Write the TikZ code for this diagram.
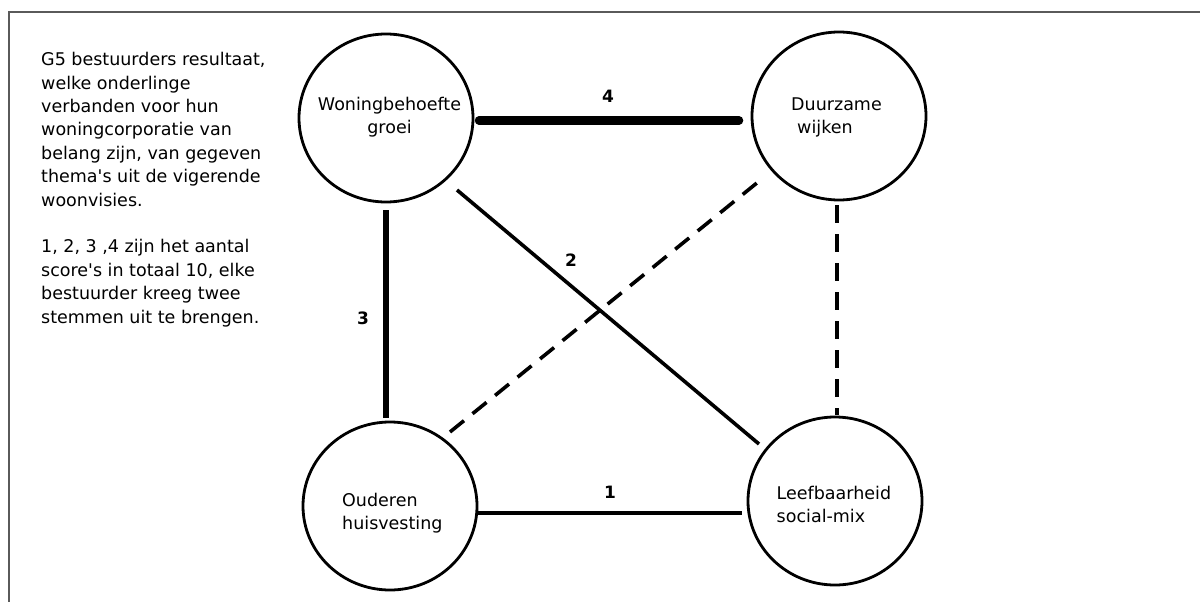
\documentclass[tikz,border=0pt]{standalone}
\usepackage{fontspec}
\setmainfont{DejaVu Sans}
\usetikzlibrary{shapes.geometric,calc}
\definecolor{framegray}{HTML}{5A5A5A}
\begin{document}
\begin{tikzpicture}[x=1pt,y=-1pt,
  bubble/.style={ellipse,draw,line width=2.8pt,minimum width=174pt,minimum height=168pt,inner sep=0pt},
  txt/.style={font=\fontsize{17.5}{23.4}\selectfont,inner sep=0pt,align=left},
  ctxt/.style={font=\fontsize{17.5}{23}\selectfont,inner sep=0pt},
  num/.style={font=\fontsize{17}{20}\selectfont\bfseries,inner sep=0pt},
  link/.style={line width=3.6pt},
  dlink/.style={line width=3.6pt,dash pattern=on 18pt off 11pt}
]
\useasboundingbox (0,0) rectangle (1200,602);
\draw[line width=2pt,framegray] (9,602) -- (9,12) -- (1200,12);

\node[txt,anchor=north west] (desc) at (41,52.2) {G5 bestuurders resultaat,\\welke onderlinge\\verbanden voor hun\\woningcorporatie van\\belang zijn, van gegeven\\thema\textquotesingle s uit de vigerende\\woonvisies.\\[23.4pt]1, 2, 3 ,4 zijn het aantal\\score\textquotesingle s in totaal 10, elke\\bestuurder kreeg twee\\stemmen uit te brengen.};

\node[bubble] (c1) at (386,118) {};
\node[bubble] (c2) at (839,116) {};
\node[bubble] (c3) at (390,506) {};
\node[bubble] (c4) at (835,501) {};

\node[ctxt,align=center,anchor=north] (t1) at (389.5,96.7) {Woningbehoefte\\groei};
\node[ctxt,align=left,anchor=north west] (t2) at (791,97.2) {Duurzame\\\hspace*{6pt}wijken};
\node[ctxt,align=left,anchor=north west] (t3) at (342,492.7) {Ouderen\\huisvesting};
\node[ctxt,align=left,anchor=north west] (t4) at (776.5,485.7) {Leefbaarheid\\social-mix};

\draw[line width=8.5pt,line cap=round] ($(c1)+(93,2.5)$) -- ($(c2)+(-100,4.5)$);
\draw[line width=5.5pt] ($(c1)+(0,92)$) -- ($(c3)+(-4,-88)$);
\draw[link] ($(c1)+(71,72)$) -- ($(c4)+(-76,-57)$);
\draw[link] ($(c3)+(88,7)$) -- ($(c4)+(-93,12)$);
\draw[dlink] ($(c3)+(60,-74)$) -- ($(c2)+(-76,62)$);
\draw[dlink,line width=4pt] ($(c2)+(-2,89)$) -- ($(c4)+(2,-86)$);

\node[num] (n4) at (608,96) {4};
\node[num] (n3) at (363,318) {3};
\node[num] (n2) at (571,260) {2};
\node[num] (n1) at (610,492) {1};
\end{tikzpicture}
\end{document}
